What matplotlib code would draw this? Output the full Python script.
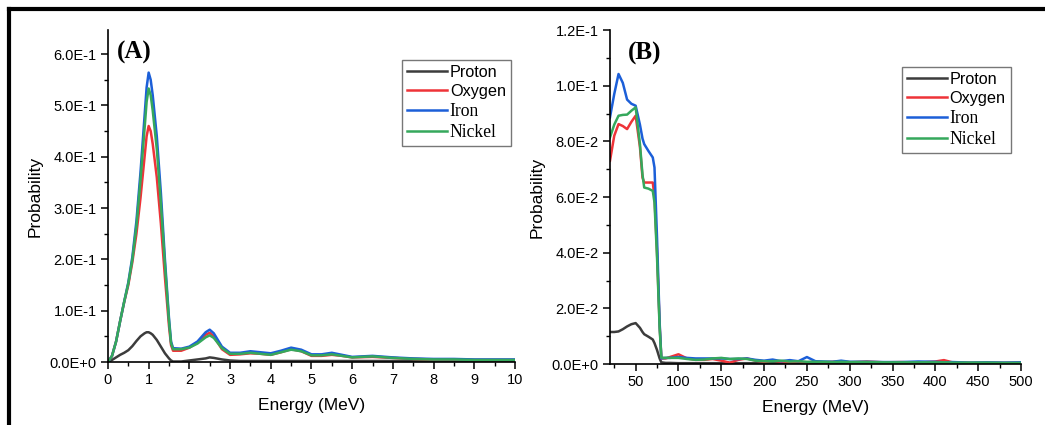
import math
import matplotlib
matplotlib.use("Agg")
import matplotlib.pyplot as plt
from matplotlib.ticker import MultipleLocator, FuncFormatter
from matplotlib.lines import Line2D

# ---- panel A: low energy (MeV) ----
energy_a = [0, 0.1, 0.2, 0.3, 0.4, 0.5, 0.6, 0.7, 0.8, 0.9,
            0.95, 1.0, 1.05, 1.1,
            1.2, 1.3, 1.4, 1.5, 1.55, 1.6,
            1.8, 2.0, 2.2, 2.4, 2.5, 2.6, 2.8,
            3.0, 3.25, 3.5, 3.75, 4.0, 4.25, 4.5, 4.75, 5.0, 5.25, 5.5, 5.75, 6.0,
            6.5, 7.0, 7.5, 8.0, 8.5, 9.0, 9.5, 10.0]
proton_a = [0, 0.004, 0.009, 0.014, 0.018, 0.023, 0.031, 0.041, 0.05, 0.056,
            0.058, 0.058, 0.056, 0.053,
            0.043, 0.03, 0.017, 0.007, 0.003, 0.001,
            0.001, 0.003, 0.005, 0.007, 0.009, 0.008, 0.005,
            0.003, 0.002, 0.002, 0.002, 0.002, 0.002, 0.002, 0.002, 0.002,
            0.002, 0.002, 0.002, 0.002,
            0.002, 0.002, 0.002, 0.002, 0.002, 0.002, 0.002, 0.002]
oxygen_a = [0, 0.012, 0.04, 0.08, 0.117, 0.15, 0.195, 0.25, 0.32, 0.40,
            0.44, 0.46, 0.45, 0.425,
            0.36, 0.27, 0.165, 0.07, 0.033, 0.022,
            0.022, 0.028, 0.038, 0.053, 0.057, 0.05, 0.025,
            0.014, 0.015, 0.017, 0.016, 0.014, 0.019, 0.025, 0.021, 0.012,
            0.012, 0.014, 0.012, 0.009,
            0.010, 0.008, 0.006, 0.005, 0.005, 0.004, 0.004, 0.004]
iron_a = [0, 0.012, 0.04, 0.08, 0.118, 0.155, 0.205, 0.275, 0.37, 0.48,
          0.535, 0.564, 0.55, 0.52,
          0.44, 0.33, 0.20, 0.085, 0.04, 0.027,
          0.026, 0.03, 0.04, 0.058, 0.063, 0.056, 0.03,
          0.018, 0.018, 0.021, 0.019, 0.017, 0.022, 0.028, 0.024, 0.015,
          0.015, 0.018, 0.014, 0.010,
          0.012, 0.009, 0.007, 0.006, 0.006, 0.005, 0.005, 0.005]
nickel_a = [0, 0.012, 0.04, 0.08, 0.118, 0.153, 0.2, 0.265, 0.355, 0.455,
            0.507, 0.533, 0.52, 0.49,
            0.415, 0.31, 0.19, 0.08, 0.037, 0.025,
            0.025, 0.028, 0.036, 0.048, 0.052, 0.047, 0.027,
            0.016, 0.016, 0.018, 0.016, 0.014, 0.019, 0.024, 0.021, 0.013,
            0.013, 0.015, 0.012, 0.009,
            0.011, 0.008, 0.006, 0.005, 0.005, 0.004, 0.004, 0.004]

# ---- panel B: high energy (MeV) ----
energy_b = [20, 25, 30, 35, 40, 45, 50, 55, 58, 60, 65, 70, 72, 75, 78, 80,
            85, 90, 100, 110, 120, 130, 140, 150, 160, 170, 180, 190, 200,
            210, 220, 230, 240, 250, 260, 270, 280, 290, 300, 320, 340, 360,
            380, 400, 410, 420, 440, 460, 480, 500]
proton_b = [0.0115, 0.0115, 0.0117, 0.0125, 0.0135, 0.0143, 0.0147, 0.013,
            0.0115, 0.0107, 0.0098, 0.0088, 0.0075, 0.005, 0.002, 0.0006,
            0.0004, 0.0004, 0.0003] + [0.0003] * 31
oxygen_b = [0.073, 0.082, 0.0862, 0.0855, 0.0844, 0.087, 0.0892, 0.078,
            0.067, 0.0652, 0.0652, 0.0652, 0.06, 0.04, 0.014, 0.002, 0.002,
            0.0025, 0.0035, 0.002, 0.0015, 0.0015, 0.0018, 0.0012, 0.0005,
            0.0015, 0.002, 0.0012, 0.0008, 0.0012, 0.0008, 0.0006, 0.0008,
            0.0006, 0.0008, 0.0006, 0.0008, 0.001, 0.0006, 0.0009, 0.0006,
            0.0007, 0.0005, 0.0009, 0.0014, 0.0006, 0.0004, 0.0005, 0.0004,
            0.0005]
iron_b = [0.0886, 0.097, 0.1042, 0.101, 0.095, 0.0935, 0.0928, 0.086, 0.081,
          0.079, 0.0765, 0.0742, 0.0706, 0.045, 0.015, 0.002, 0.0022, 0.0022,
          0.0025, 0.0022, 0.002, 0.002, 0.002, 0.002, 0.0018, 0.0018, 0.002,
          0.0015, 0.0012, 0.0016, 0.001, 0.0014, 0.001, 0.0025, 0.001,
          0.0009, 0.0008, 0.0012, 0.0008, 0.0008, 0.0007, 0.0007, 0.0009,
          0.0008, 0.0006, 0.0007, 0.0005, 0.0006, 0.0005, 0.0006]
nickel_b = [0.0814, 0.086, 0.0892, 0.0895, 0.0896, 0.091, 0.0922, 0.079,
            0.068, 0.0634, 0.063, 0.0622, 0.058, 0.038, 0.013, 0.0023,
            0.0022, 0.0022, 0.0022, 0.0018, 0.0015, 0.0016, 0.002, 0.0022,
            0.0018, 0.002, 0.0018, 0.0012, 0.001, 0.001, 0.0012, 0.0009,
            0.001, 0.0008, 0.0008, 0.0008, 0.0007, 0.0008, 0.0007, 0.0007,
            0.0006, 0.0006, 0.0006, 0.0006, 0.0006, 0.0005, 0.0005, 0.0005,
            0.0004, 0.0004]

names = ["Proton", "Oxygen", "Iron", "Nickel"]
colors = ["#3c3c3c", "#ee3338", "#1c5fd8", "#35a85c"]
# the legend mixes two typefaces, as in the original figure
legend_fonts = [("Liberation Sans", 11.7), ("Liberation Sans", 11.7),
                ("Liberation Serif", 12.7), ("Liberation Serif", 12.7)]

plt.rcParams["font.family"] = ["Liberation Sans", "DejaVu Sans"]


def sci(v, pos):
    if abs(v) < 1e-12:
        return "0.0E+0"
    e = int(math.floor(math.log10(abs(v)) + 1e-9))
    m = v / 10 ** e
    return "%.1fE%s%d" % (m, "+" if e >= 0 else "-", abs(e))


def style(ax):
    for s in ["top", "right"]:
        ax.spines[s].set_visible(False)
    for s in ["left", "bottom"]:
        ax.spines[s].set_linewidth(1.2)
    ax.tick_params(which="major", direction="out", length=5, width=1.1,
                   labelsize=10.5, pad=3)
    ax.tick_params(which="minor", direction="out", length=3, width=1.0)
    ax.yaxis.set_major_formatter(FuncFormatter(sci))
    ax.set_ylabel("Probability", fontsize=12.5, labelpad=5)
    ax.set_xlabel("Energy (MeV)", fontsize=12.5, labelpad=8)


def legend(ax, loc):
    handles = [Line2D([], [], color=c, lw=1.8) for c in colors]
    leg = ax.legend(handles, names, loc="upper left", bbox_to_anchor=loc,
                    fontsize=11.7, frameon=True, fancybox=False,
                    handlelength=2.5, handletextpad=0.15, labelspacing=0.25,
                    borderpad=0.3, borderaxespad=0)
    leg.get_frame().set_edgecolor("#555555")
    leg.get_frame().set_linewidth(1.0)
    for t, (f, s) in zip(leg.get_texts(), legend_fonts):
        t.set_fontfamily(f)
        t.set_fontsize(s)


fig = plt.figure(figsize=(10.45, 4.25), dpi=100)
ax1 = fig.add_axes([0.1033, 0.1482, 0.3895, 0.7812])
ax2 = fig.add_axes([0.5837, 0.1435, 0.3933, 0.7859])

for y, c in zip([proton_a, oxygen_a, iron_a, nickel_a], colors):
    ax1.plot(energy_a, y, color=c, lw=1.8, solid_joinstyle="round")
for y, c in zip([proton_b, oxygen_b, iron_b, nickel_b], colors):
    ax2.plot(energy_b, y, color=c, lw=1.8, solid_joinstyle="round")

ax1.set_xlim(0, 10)
ax1.set_ylim(0, 0.647)
ax1.xaxis.set_major_locator(MultipleLocator(1))
ax1.xaxis.set_minor_locator(MultipleLocator(0.5))
ax1.yaxis.set_major_locator(MultipleLocator(0.1))
ax1.yaxis.set_minor_locator(MultipleLocator(0.05))

ax2.set_xlim(20, 500)
ax2.set_ylim(0, 0.12)
ax2.xaxis.set_major_locator(MultipleLocator(50))
ax2.xaxis.set_minor_locator(MultipleLocator(25))
ax2.yaxis.set_major_locator(MultipleLocator(0.02))
ax2.yaxis.set_minor_locator(MultipleLocator(0.01))

style(ax1)
style(ax2)
legend(ax1, (0.722, 0.91))
legend(ax2, (0.71, 0.89))

ax1.text(0.022, 0.968, "(A)", transform=ax1.transAxes, fontsize=18,
         fontweight="bold", family="Liberation Serif", va="top", ha="left")
ax2.text(0.043, 0.964, "(B)", transform=ax2.transAxes, fontsize=18,
         fontweight="bold", family="Liberation Serif", va="top", ha="left")

# thick frame on top and left edge, as in the source figure
fig.add_artist(Line2D([9 / 1045, 1.0], [1 - 9 / 425, 1 - 9 / 425],
                      transform=fig.transFigure, color="black", lw=3))
fig.add_artist(Line2D([9 / 1045, 9 / 1045], [0, 1 - 9 / 425],
                      transform=fig.transFigure, color="black", lw=3))

fig.savefig("out.png", dpi=100)
